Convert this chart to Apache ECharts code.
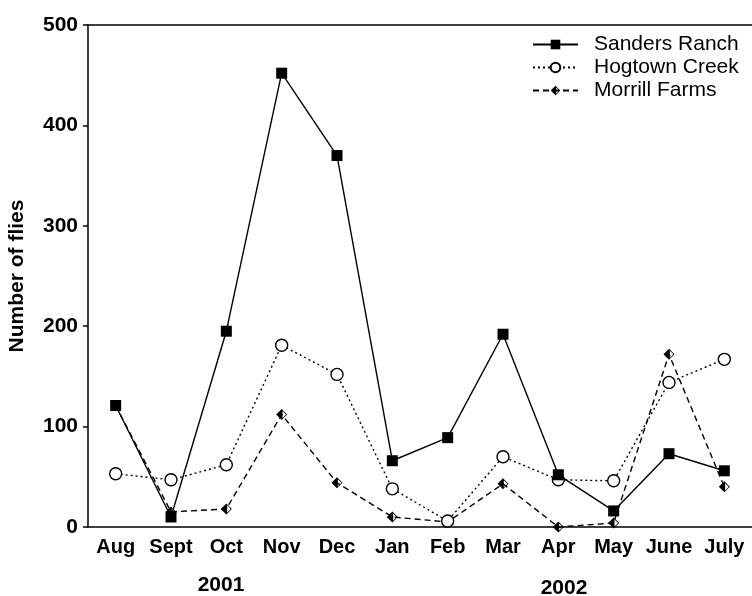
<!DOCTYPE html>
<html><head><meta charset="utf-8">
<script src="https://cdn.jsdelivr.net/npm/echarts@6/dist/echarts.min.js"></script>
<style>html,body{margin:0;padding:0;background:#fff}#c{width:752px;height:596px}</style>
</head><body><div id="c"></div>
<script>
const months = ['Aug','Sept','Oct','Nov','Dec','Jan','Feb','Mar','Apr','May','June','July'];
const sandersRanch = [121, 10, 195, 452, 370, 66, 89, 192, 52, 16, 73, 56];
const hogtownCreek = [53, 47, 62, 181, 152, 38, 6, 70, 47, 46, 144, 167];
const morrillFarms = [121, 15, 18, 112, 44, 10, 5, 43, 0, 4, 172, 40];
const yTicks = [0, 100, 200, 300, 400, 500];
const yearLabels = ['2001', '2002'];

const halfDiamond = 'path://M0,-10 L10,0 L0,10 L-10,0 Z M1.5,-6.5 L1.5,6.5 L8,0 Z';
const font = 'Liberation Sans, Arial, sans-serif';
const chart = echarts.init(document.getElementById('c'), null, {renderer: 'canvas'});
chart.setOption({
  animation: false,
  backgroundColor: '#fff',
  grid: {left: 88, top: 25, right: 0, bottom: 69, containLabel: false, outerBoundsMode: 'none'},
  legend: {
    left: 532, top: 34, orient: 'vertical', itemGap: 2, itemWidth: 45, itemHeight: 12,
    padding: 0,
    textStyle: {fontFamily: font, fontSize: 21, lineHeight: 21, color: '#000', padding: [0, 0, 0, 11]},
    data: ['Sanders Ranch', 'Hogtown Creek', 'Morrill Farms']
  },
  xAxis: [{
    type: 'category', data: months, boundaryGap: true,
    axisLine: {lineStyle: {color: '#000', width: 1.5}},
    axisTick: {alignWithLabel: true, length: 6, lineStyle: {color: '#000', width: 1.5}},
    axisLabel: {color: '#000', fontFamily: font, fontWeight: 'bold', fontSize: 20, margin: 10, interval: 0}
  }, {
    type: 'category', data: months, position: 'top',
    axisLine: {lineStyle: {color: '#000', width: 1.5}},
    axisTick: {show: false}, axisLabel: {show: false}
  }],
  yAxis: {
    type: 'value', min: yTicks[0], max: yTicks[yTicks.length - 1], interval: 100,
    name: 'Number of flies', nameLocation: 'middle', nameGap: 60, nameRotate: 90,
    nameTextStyle: {color: '#000', fontFamily: font, fontWeight: 'bold', fontSize: 21},
    axisLine: {show: true, lineStyle: {color: '#000', width: 1.5}},
    axisTick: {show: true, length: 5, lineStyle: {color: '#000', width: 1.5}},
    splitLine: {show: false},
    axisLabel: {color: '#000', fontFamily: font, fontWeight: 'bold', fontSize: 21, margin: 10}
  },
  graphic: [
    {type: 'text', x: 221, y: 585, style: {text: yearLabels[0], font: 'bold 21px ' + font, fill: '#000', align: 'center', verticalAlign: 'middle'}},
    {type: 'text', x: 564, y: 588, style: {text: yearLabels[1], font: 'bold 21px ' + font, fill: '#000', align: 'center', verticalAlign: 'middle'}}
  ],
  series: [{
    name: 'Sanders Ranch', type: 'line', data: sandersRanch, z: 4,
    symbol: 'rect', symbolSize: 11,
    lineStyle: {color: '#000', width: 1.4, type: 'solid'},
    itemStyle: {color: '#000', borderColor: '#000', borderWidth: 0}
  }, {
    name: 'Hogtown Creek', type: 'line', data: hogtownCreek, z: 3,
    symbol: 'circle', symbolSize: 12, showAllSymbol: true,
    lineStyle: {color: '#000', width: 1.4, type: [2, 3]},
    itemStyle: {color: '#fff', borderColor: '#000', borderWidth: 1.4}
  }, {
    name: 'Morrill Farms', type: 'line', data: morrillFarms, z: 2,
    symbol: halfDiamond, symbolSize: 11,
    lineStyle: {color: '#000', width: 1.4, type: [6, 4]},
    itemStyle: {color: '#000', borderColor: '#000', borderWidth: 0}
  }]
});
</script></body></html>
